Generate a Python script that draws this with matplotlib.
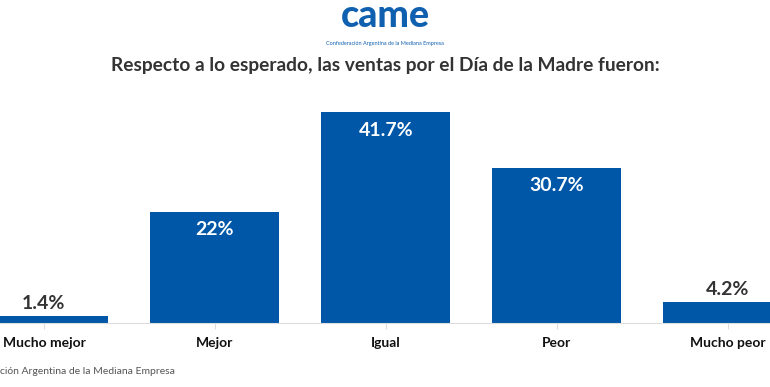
import matplotlib.pyplot as plt

plt.rcParams['font.family'] = ['Lato', 'DejaVu Sans']

categories = ['Mucho mejor', 'Mejor', 'Igual', 'Peor', 'Mucho peor']
values = [1.4, 22, 41.7, 30.7, 4.2]
labels = ['1.4%', '22%', '41.7%', '30.7%', '4.2%']

blue = '#0057a8'
dark = '#333333'

fig = plt.figure(figsize=(7.7, 3.87), dpi=100)
ax = fig.add_axes([0, 64 / 387, 1, 227.7 / 387])

x = list(range(len(categories)))
ax.bar(x, values, width=0.754, color=blue, zorder=2)
ax.set_xlim(-0.257, 4.246)
ax.set_ylim(0, 45)

for xi, v, lab in zip(x, values, labels):
    if v > 10:
        ax.annotate(lab, (xi, v), xytext=(0, -7), textcoords='offset points',
                    ha='center', va='top', color='white', fontsize=14, fontweight='bold')
    else:
        ax.annotate(lab, (xi, v), xytext=(0, 3), textcoords='offset points',
                    ha='center', va='bottom', color=dark, fontsize=14, fontweight='bold')

ax.set_xticks(x)
ax.set_xticklabels(categories, fontsize=10, fontweight='bold', color='#111111')
ax.tick_params(axis='x', length=4, color='#dddddd', pad=6)
ax.set_yticks([])
for s in ['top', 'right', 'left']:
    ax.spines[s].set_visible(False)
ax.spines['bottom'].set_color('#dddddd')

fig.text(0.5, 1 - 65 / 387, 'Respecto a lo esperado, las ventas por el Día de la Madre fueron:',
         ha='center', va='center', fontsize=13.75, fontweight='bold', color=dark)

# logo
fig.text(0.5, 1 - 16 / 387, 'came', ha='center', va='center', fontsize=27,
         fontweight='black', color='#1060b0')
fig.text(0.5, 1 - 43 / 387, 'Confederación Argentina de la Mediana Empresa', ha='center',
         va='center', fontsize=4, color='#1060b0')

fig.text(0, 1 - 371 / 387, 'ción Argentina de la Mediana Empresa', ha='left', va='center',
         fontsize=7.5, color='#555555')

fig.savefig('out.png', dpi=100)
